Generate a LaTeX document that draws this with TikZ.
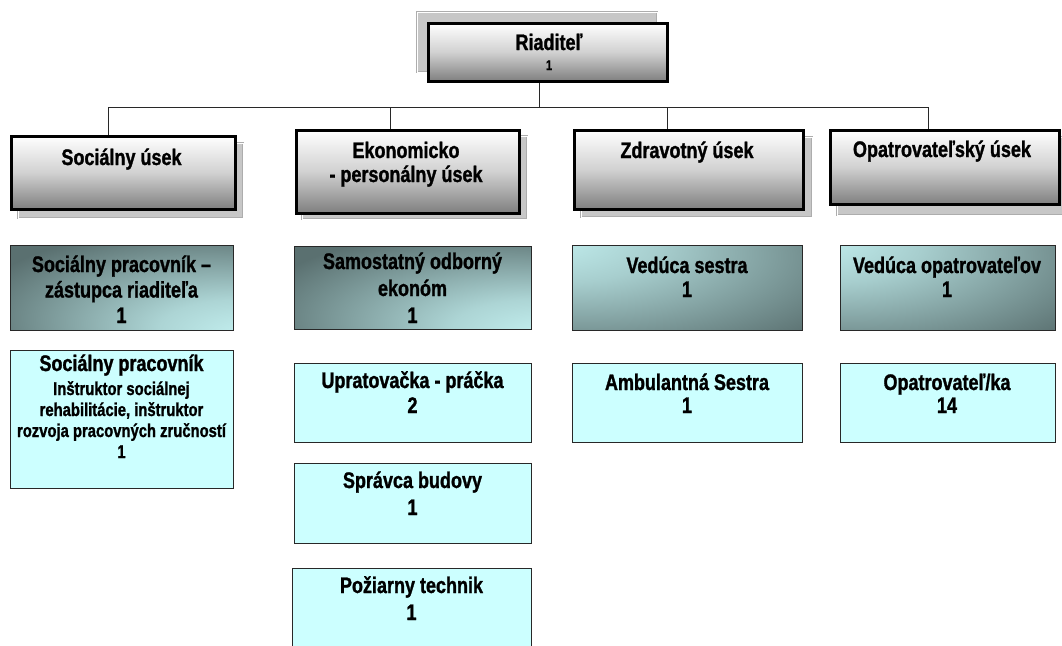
\documentclass[tikz,border=0pt]{standalone}
\usepackage{fontspec}
\setmainfont{Liberation Sans}[FakeStretch=0.8, BoldFeatures={FakeBold=1.2}]
\definecolor{dk}{RGB}{90,112,112}
\definecolor{lt}{RGB}{200,246,246}
\definecolor{litefill}{RGB}{204,255,255}
\definecolor{linec}{RGB}{40,40,40}
\pgfdeclareradialshading{glowbr}{\pgfpoint{32bp}{-30bp}}{color(0bp)=(lt); color(18bp)=(lt!75!dk); color(50bp)=(dk); color(100bp)=(dk)}
\pgfdeclareradialshading{glowtl}{\pgfpoint{-36bp}{32bp}}{color(0bp)=(lt); color(22bp)=(lt!70!dk); color(58bp)=(dk); color(100bp)=(dk)}
\newcommand\tl[1]{\begin{tabular}[t]{@{}c@{}}#1\end{tabular}}
\tikzset{
  boss/.style={draw=black, line width=3pt, top color=white, bottom color=black!50, middle color=black!18, anchor=north west, inner sep=0pt},
  shadowbox/.style={draw=black!32, double=white, line width=0.6pt, double distance=1pt, fill=black!22, anchor=north west, inner sep=0pt},
  litebox/.style={draw=linec, line width=1pt, fill=litefill, anchor=north west, inner sep=0pt},
  darkbr/.style={draw=linec, line width=1pt, shading=glowbr, anchor=north west, inner sep=0pt},
  darktl/.style={draw=linec, line width=1pt, shading=glowtl, anchor=north west, inner sep=0pt},
  txt/.style={anchor=base, inner sep=0pt, font=\bfseries\fontsize{22.5}{#1}\selectfont},
  txt/.default=24,
  conn/.style={draw=linec, line width=1pt}
}
\begin{document}
\begin{tikzpicture}[x=1pt,y=-1pt]
\useasboundingbox (0,0) rectangle (1062,645);
\clip (0,0) rectangle (1062,645);
% shadows
\node[shadowbox, minimum width=240pt, minimum height=60pt] (riadsh) at (417,12) {};
\node[shadowbox, minimum width=225pt, minimum height=75pt] (socsh) at (18,143) {};
\node[shadowbox, minimum width=225pt, minimum height=83pt] (ekosh) at (302,136) {};
\node[shadowbox, minimum width=231pt, minimum height=80pt] (zdrsh) at (581,137) {};
\node[shadowbox, minimum width=231pt, minimum height=78pt] (opatsh) at (837,137) {};
% top level boxes
\node[boss, minimum width=239pt, minimum height=58pt] (riad) at (426.5,21.5) {};
\node[boss, minimum width=224pt, minimum height=73pt] (soc) at (9.5,134.5) {};
\node[boss, minimum width=223pt, minimum height=83pt] (eko) at (294.5,128.5) {};
\node[boss, minimum width=229pt, minimum height=79pt] (zdr) at (572.5,128.5) {};
\node[boss, minimum width=229pt, minimum height=74pt] (opat) at (828.5,128.5) {};
% second level boxes
\node[darkbr, minimum width=223pt, minimum height=85pt] (zast) at (10,245) {};
\node[litebox, minimum width=223pt, minimum height=138pt] (socp) at (10,350) {};
\node[darkbr, minimum width=237pt, minimum height=83pt] (sam) at (294,246) {};
\node[litebox, minimum width=237pt, minimum height=79pt] (upr) at (294,363) {};
\node[litebox, minimum width=237pt, minimum height=80pt] (spr) at (294,463) {};
\node[litebox, minimum width=239pt, minimum height=90pt] (poz) at (292,568) {};
\node[darktl, minimum width=230pt, minimum height=85pt] (ved) at (572,245) {};
\node[darktl, minimum width=215pt, minimum height=85pt] (vop) at (840,245) {};
\node[litebox, minimum width=230pt, minimum height=79pt] (amb) at (572,363) {};
\node[litebox, minimum width=215pt, minimum height=79pt] (opk) at (840,363) {};
% connectors
\coordinate (bus) at (0,107);
\coordinate (xr) at (539,0);
\coordinate (xs) at (108,0);
\coordinate (xe) at (390,0);
\coordinate (xz) at (667,0);
\coordinate (xo) at (928,0);
\draw[conn] (riad.south -| xr) -- (bus -| xr);
\draw[conn] (soc.north -| xs) -- (bus -| xs) -- (bus -| xo) -- (opat.north -| xo);
\draw[conn] (bus -| xe) -- (eko.north -| xe);
\draw[conn] (bus -| xz) -- (zdr.north -| xz);
% texts
\node[txt=20] (triad) at (549,50) {\tl{Riaditeľ\\{\fontsize{14}{14}\selectfont 1}}};
\node[txt] (tsoc) at (121.5,165) {\tl{Sociálny úsek}};
\node[txt=24] (teko) at (406,158) {\tl{Ekonomicko\\- personálny úsek}};
\node[txt] (tzdr) at (687,158) {\tl{Zdravotný úsek}};
\node[txt] (topat) at (942,157) {\tl{Opatrovateľský úsek}};
\node[txt=25.5] (tzast) at (121.5,272) {\tl{Sociálny pracovník –\\zástupca riaditeľa\\1}};
\node[anchor=base, inner sep=0pt, font=\bfseries\fontsize{18.5}{21}\selectfont] (tsocp) at (121.5,371) {\tl{{\fontsize{22.5}{21}\selectfont Sociálny pracovník}\\[3pt]Inštruktor sociálnej\\rehabilitácie, inštruktor\\rozvoja pracovných zručností\\1}};
\node[txt=27] (tsam) at (412.5,269) {\tl{Samostatný odborný\\ekonóm\\1}};
\node[txt=25] (tupr) at (412.5,388) {\tl{Upratovačka - práčka\\2}};
\node[txt=27] (tspr) at (412.5,488) {\tl{Správca budovy\\1}};
\node[txt=27] (tpoz) at (411.5,593) {\tl{Požiarny technik\\1}};
\node[txt=24] (tved) at (687,273) {\tl{Vedúca sestra\\1}};
\node[txt=24] (tvop) at (947,273) {\tl{Vedúca opatrovateľov\\1}};
\node[txt=23] (tamb) at (687,390) {\tl{Ambulantná Sestra\\1}};
\node[txt=23] (topk) at (947,390) {\tl{Opatrovateľ/ka\\14}};
\end{tikzpicture}
\end{document}
